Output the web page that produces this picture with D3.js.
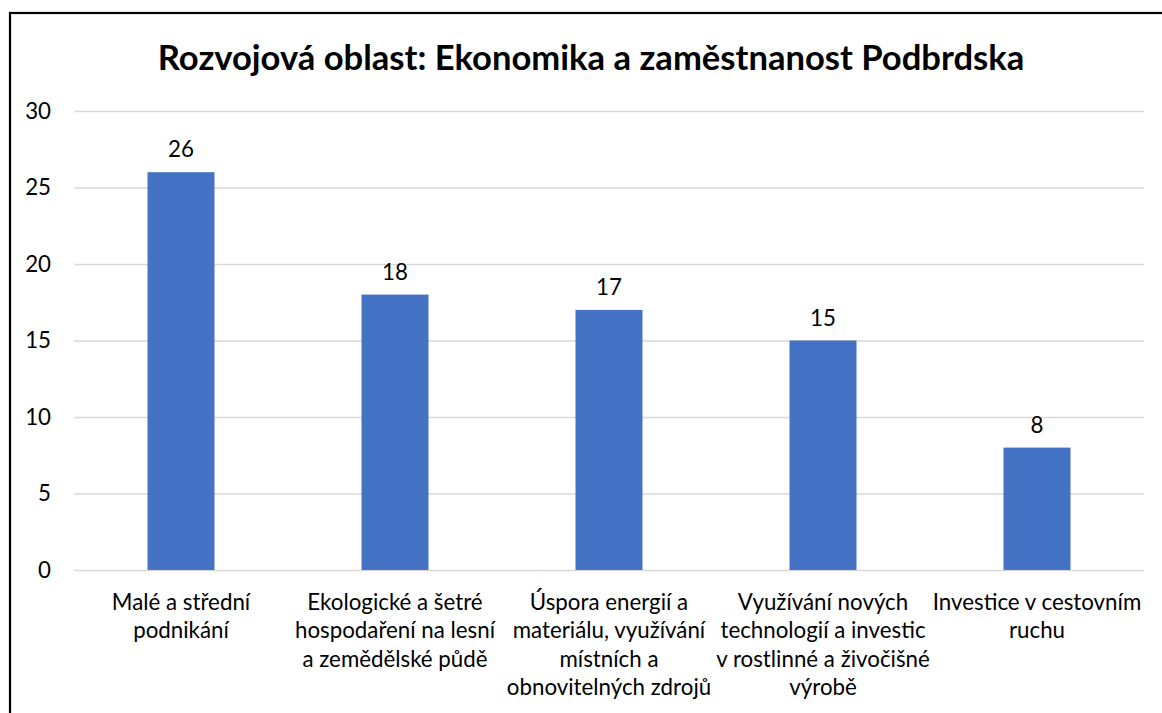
<!DOCTYPE html>
<html><head><meta charset="utf-8">
<script src="https://cdn.jsdelivr.net/npm/d3@7"></script>
<style>body{margin:0;background:#fff;} svg{display:block;font-family:Lato,"Open Sans",sans-serif;}</style>
</head><body>
<svg id="c" width="1162" height="713"></svg>
<script>
const title = "Rozvojová oblast: Ekonomika a zaměstnanost Podbrdska";
const categories = [
  ["Malé a střední", "podnikání"],
  ["Ekologické a šetré", "hospodaření na lesní", "a zemědělské půdě"],
  ["Úspora energií a", "materiálu, využívání", "místních a", "obnovitelných zdrojů"],
  ["Využívání nových", "technologií a investic", "v rostlinné a živočišné", "výrobě"],
  ["Investice v cestovním", "ruchu"]
];
const values = [26, 18, 17, 15, 8];
const yTicks = [0, 5, 10, 15, 20, 25, 30];

(function(){
const svg = d3.select("#c");
svg.append("rect").attr("x",10).attr("y",13).attr("width",1160).attr("height",720)
  .attr("fill","#fff").attr("stroke","#000").attr("stroke-width",2.2);

const pl = 74, pr = 1144, pt = 111, pb = 570;
const fs = 22.3;
const keys = categories.map((c,i)=>i);
const x = d3.scaleBand().domain(keys).range([pl,pr]).padding(0);
const y = d3.scaleLinear().domain([0,30]).range([pb,pt]);
const barW = x.bandwidth()*0.313;

svg.append("text").attr("x",591).attr("y",70).attr("text-anchor","middle")
  .attr("font-weight","bold").attr("font-size",34.6).attr("fill","#000").text(title);

const ya = svg.append("g").attr("transform",`translate(${pl},0)`)
  .call(d3.axisLeft(y).tickValues(yTicks).tickSize(-(pr-pl)).tickPadding(23));
ya.select(".domain").remove();
ya.selectAll(".tick line").attr("stroke","#d9d9d9").attr("stroke-width",1.5);
ya.selectAll(".tick text").attr("font-size",fs).attr("fill","#000").attr("font-family","Lato,sans-serif");

svg.selectAll("rect.bar").data(values).join("rect").attr("class","bar")
  .attr("x",(d,i)=>x(i)+x.bandwidth()/2-barW/2).attr("width",barW)
  .attr("y",d=>y(d)).attr("height",d=>y(0)-y(d)).attr("fill","#4472C4");

svg.selectAll("text.val").data(values).join("text").attr("class","val")
  .attr("x",(d,i)=>x(i)+x.bandwidth()/2).attr("y",d=>y(d)-15)
  .attr("text-anchor","middle").attr("font-size",fs).attr("fill","#000").text(d=>d);

const cg = svg.selectAll("text.cat").data(categories).join("text").attr("class","cat")
  .attr("text-anchor","middle").attr("font-size",fs).attr("fill","#000");
cg.each(function(lines,i){
  const t = d3.select(this);
  lines.forEach((ln,j)=>{
    t.append("tspan").attr("x",x(i)+x.bandwidth()/2).attr("y",610+j*28.4).text(ln);
  });
});
})();
</script>
</body></html>
